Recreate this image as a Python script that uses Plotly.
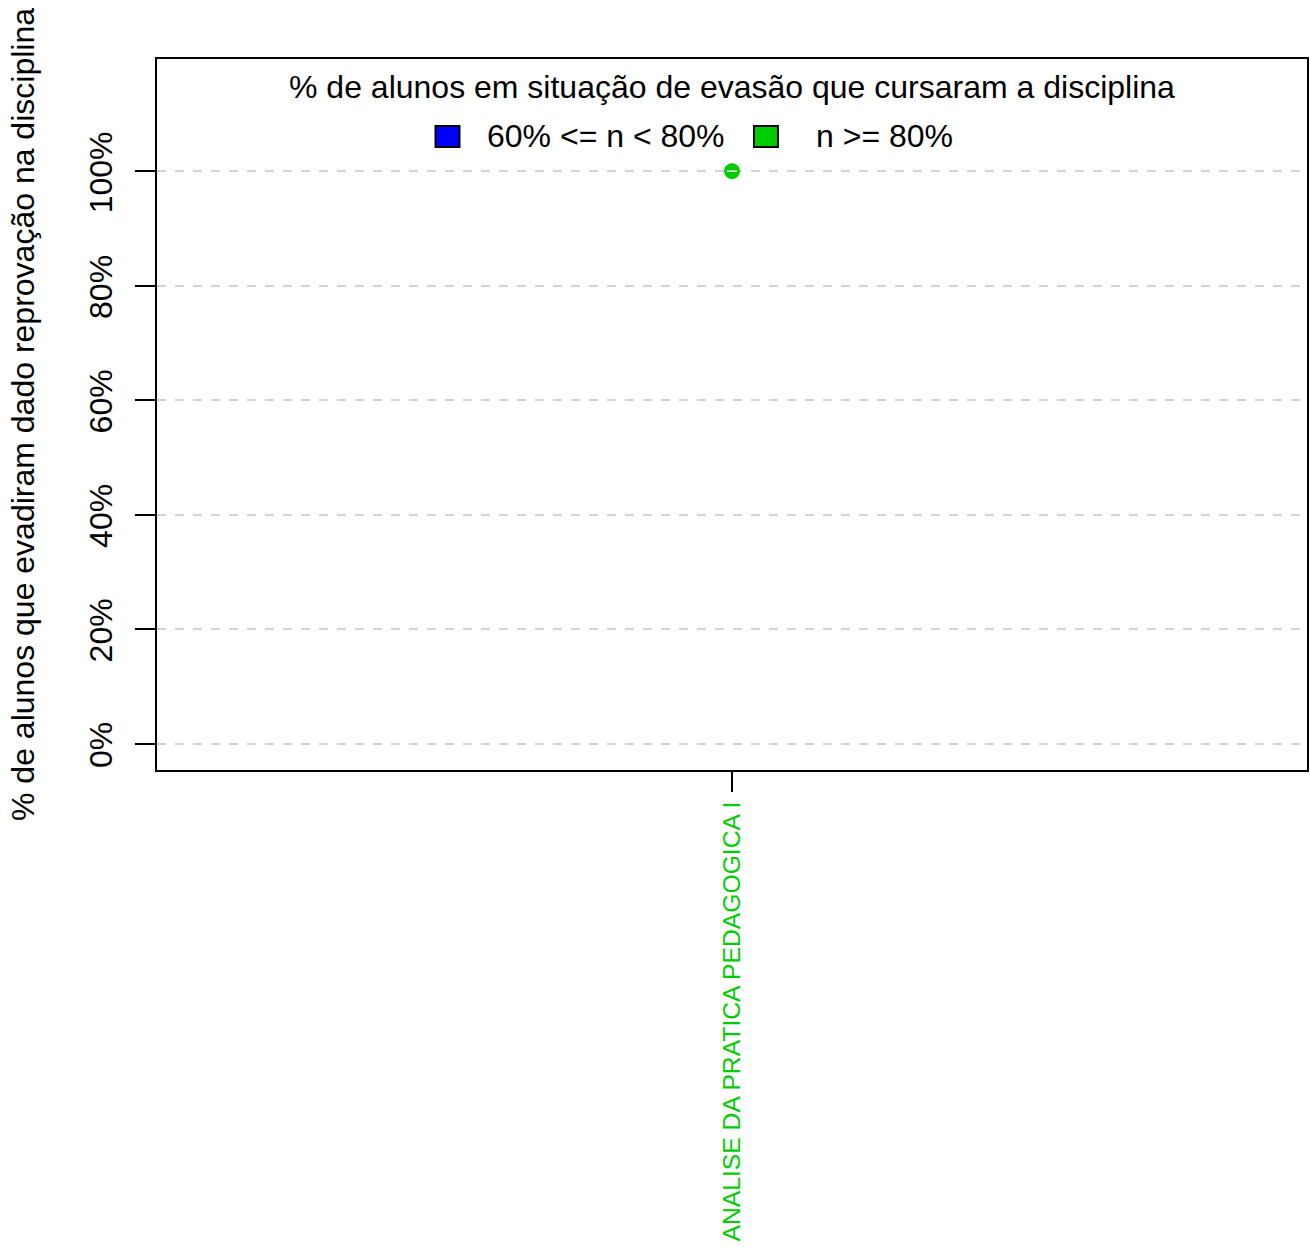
import plotly.graph_objects as go

categories = ["ANALISE DA PRATICA PEDAGOGICA I"]
values = [100]
category_colors = ["#00CD00"]
legend_title = "% de alunos em situação de evasão que cursaram a disciplina"
legend_labels = ["60% <= n < 80%", "n >= 80%"]
legend_colors = ["#0000FF", "#00CD00"]
y_ticks = [0, 20, 40, 60, 80, 100]
y_tick_labels = ["0%", "20%", "40%", "60%", "80%", "100%"]

FONT = "Liberation Sans, Arial, sans-serif"
W, H = 1310, 1247
ML, MR, MT, MB = 157, 1, 59, 477
PW, PH = W - ML - MR, H - MT - MB


def px_x(px):
    return (px - ML) / PW


def px_y(py):
    return (H - MB - py) / PH


fig = go.Figure()

fig.add_trace(go.Scatter(
    x=categories, y=values, mode="markers", showlegend=False,
    marker=dict(symbol="circle", size=16, color=category_colors),
))
fig.add_trace(go.Scatter(
    x=categories, y=values, mode="markers", showlegend=False,
    marker=dict(symbol="line-ew", size=7, line=dict(color="white", width=1.5)),
))

# Legend (drawn as shapes + text, like R's legend box)
sq_left = [436, 755]
text_left = [486, 815]
sq_size = 23
leg_row_y = 136.5
shapes = []
annotations = [dict(
    text=legend_title, x=0.5, y=px_y(87), xref="paper", yref="paper",
    xanchor="center", yanchor="middle", showarrow=False,
    font=dict(size=32, family=FONT, color="black"),
)]
for lab, col, sx, tx in zip(legend_labels, legend_colors, sq_left, text_left):
    shapes.append(dict(
        type="rect", xref="paper", yref="paper",
        x0=px_x(sx), x1=px_x(sx + sq_size + 1),
        y0=px_y(leg_row_y + sq_size / 2 - 1), y1=px_y(leg_row_y - sq_size / 2 + 1),
        fillcolor=col, line=dict(color="black", width=2),
    ))
    annotations.append(dict(
        text=lab, x=px_x(tx), y=px_y(leg_row_y), xref="paper", yref="paper",
        xanchor="left", yanchor="middle", showarrow=False,
        font=dict(size=32, family=FONT, color="black"),
    ))

fig.update_layout(
    width=W, height=H,
    margin=dict(l=ML, r=MR, t=MT, b=MB),
    plot_bgcolor="white", paper_bgcolor="white",
    font=dict(family=FONT, size=32, color="black"),
    showlegend=False,
    shapes=shapes,
    annotations=annotations,
    xaxis=dict(
        type="category", range=[-0.5, 0.5],
        showline=True, linecolor="black", linewidth=1.5, mirror=True,
        ticks="outside", ticklen=20, tickcolor="black", tickwidth=1.5,
        tickangle=-90, tickfont=dict(size=24.7, color=category_colors[0]),
        showgrid=False, zeroline=False,
    ),
    yaxis=dict(
        range=[-4.6, 119.6],
        tickvals=y_ticks, ticktext=y_tick_labels,
        showline=True, linecolor="black", linewidth=1.5, mirror=True,
        ticks="outside", ticklen=20, tickcolor="black", tickwidth=1.5,
        tickangle=-90, tickfont=dict(size=32), ticklabelstandoff=10,
        ticklabelshift=6,
        showgrid=True, gridcolor="#D3D3D3", griddash="dash", gridwidth=1.5,
        zeroline=False,
        title=dict(text="% de alunos que evadiram dado reprovação na disciplina",
                   font=dict(size=32), standoff=39),
    ),
)

fig.write_html("out.html", config={"displayModeBar": False},
               post_script="document.body.style.margin='0px';")
